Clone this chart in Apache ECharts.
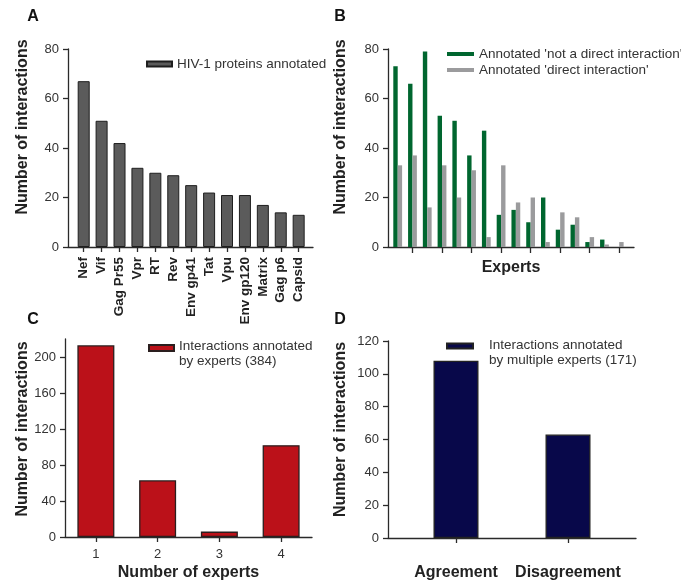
<!DOCTYPE html>
<html>
<head>
<meta charset="utf-8">
<script src="https://cdn.jsdelivr.net/npm/echarts@6/dist/echarts.min.js"></script>
<style>html,body{margin:0;padding:0;background:#fff}#c{width:681px;height:584px}</style>
</head>
<body>
<div id="c"></div>
<script>
// ---- Data ----
const proteinCategories = ['Nef','Vif','Gag Pr55','Vpr','RT','Rev','Env gp41','Tat','Vpu','Env gp120','Matrix','Gag p6','Capsid'];
const proteinCounts = [67,51,42,32,30,29,25,22,21,21,17,14,13];

const expertIds = [1,2,3,4,5,6,7,8,9,10,11,12,13,14,15,16];
const notDirectCounts = [73,66,79,53,51,37,47,13,15,10,20,7,9,2,3,0];
const directCounts = [33,37,16,33,20,31,4,33,18,20,2,14,12,4,1,2];
const expertTickValues = [2,4,6,8,10,12,14,16];

const expertNumberCategories = ['1','2','3','4'];
const expertNumberCounts = [213,63,6,102];

const agreementCategories = ['Agreement','Disagreement'];
const agreementCounts = [108,63];

const yTicksC = [0,40,80,120,160,200];

// ---- Styles ----
const FONT = 'Liberation Sans, Arial, Helvetica, sans-serif';
const axisColor = '#2a2a2a';
const labelColor = '#333';
const titleColor = '#222';

function yAxisBase(gridIndex, max, interval, namePad, nameGap) {
  return {
    type: 'value', gridIndex, min: 0, max, interval,
    name: 'Number of interactions', nameLocation: 'middle', nameGap,
    nameTextStyle: {fontFamily: FONT, fontWeight: 'bold', fontSize: 16, color: titleColor, padding: [0,0,0,namePad]},
    axisLine: {show: true, onZero: false, lineStyle: {color: axisColor, width: 1.3}},
    axisTick: {show: true, inside: false, length: 5, lineStyle: {color: axisColor, width: 1.3}},
    axisLabel: {fontFamily: FONT, fontSize: 13, color: labelColor, margin: 9},
    splitLine: {show: false}
  };
}

function twoLine(name) {
  const parts = name.split('\n');
  return '{a|' + parts[0] + '}\n{b|' + parts[1] + '}';
}

function legendRich(firstLineHeight) {
  return {
    a: {fontFamily: FONT, fontSize: 13.5, color: labelColor, lineHeight: firstLineHeight, verticalAlign: 'bottom'},
    b: {fontFamily: FONT, fontSize: 13.5, color: labelColor, lineHeight: 17}
  };
}

const option = {
  animation: false,
  backgroundColor: '#fff',
  textStyle: {fontFamily: FONT},
  grid: [
    {left: 68, top: 49, width: 245, height: 198},
    {left: 388, top: 49, width: 246, height: 198},
    {left: 65, top: 339, width: 247, height: 198},
    {left: 388, top: 341, width: 248, height: 197}
  ],
  xAxis: [
    {
      type: 'value', gridIndex: 0, min: -0.876, max: 12.8,
      axisLine: {show: true, onZero: false, lineStyle: {color: axisColor, width: 1.3}},
      axisTick: {show: true, length: 5, customValues: proteinCategories.map((c, i) => i), lineStyle: {color: axisColor, width: 1.3}},
      axisLabel: {customValues: proteinCategories.map((c, i) => i), formatter: v => proteinCategories[Math.round(v)] || '',
        rotate: 90, fontFamily: FONT, fontSize: 13.5, fontWeight: 'bold', color: titleColor, margin: 10},
      splitLine: {show: false}
    },
    {
      type: 'value', gridIndex: 1, min: 0.343, max: 17.0,
      name: 'Experts', nameLocation: 'middle', nameGap: 13,
      nameTextStyle: {fontFamily: FONT, fontWeight: 'bold', fontSize: 16, color: titleColor},
      axisLine: {show: true, onZero: false, lineStyle: {color: axisColor, width: 1.3}},
      axisTick: {show: true, length: 6, customValues: expertTickValues, lineStyle: {color: axisColor, width: 1.3}},
      axisLabel: {show: false},
      splitLine: {show: false}
    },
    {
      type: 'category', gridIndex: 2, data: expertNumberCategories,
      name: 'Number of experts', nameLocation: 'middle', nameGap: 28,
      nameTextStyle: {fontFamily: FONT, fontWeight: 'bold', fontSize: 16, color: titleColor},
      axisLine: {show: true, onZero: false, lineStyle: {color: axisColor, width: 1.3}},
      axisTick: {show: true, alignWithLabel: true, length: 5, lineStyle: {color: axisColor, width: 1.3}},
      axisLabel: {fontFamily: FONT, fontSize: 13, color: labelColor, margin: 11}
    },
    {
      type: 'value', gridIndex: 3, min: -0.607, max: 1.607,
      axisLine: {show: true, onZero: false, lineStyle: {color: axisColor, width: 1.3}},
      axisTick: {show: true, length: 5, customValues: [0, 1], lineStyle: {color: axisColor, width: 1.3}},
      axisLabel: {customValues: [0, 1], formatter: v => agreementCategories[Math.round(v)] || '',
        fontFamily: FONT, fontSize: 16, fontWeight: 'bold', color: titleColor, margin: 27},
      splitLine: {show: false}
    }
  ],
  yAxis: [
    yAxisBase(0, 80, 20, 42, 37),
    yAxisBase(1, 80, 20, 42, 39),
    Object.assign(yAxisBase(2, 220, 40, 18, 34), {
      axisLabel: {customValues: yTicksC, fontFamily: FONT, fontSize: 13, color: labelColor, margin: 9},
      axisTick: {show: true, inside: false, length: 5, customValues: yTicksC, lineStyle: {color: axisColor, width: 1.3}}
    }),
    yAxisBase(3, 120, 20, 20, 39)
  ],
  legend: [
    {
      left: 146, top: 57, padding: 0, icon: 'rect', itemWidth: 25, itemHeight: 5,
      data: ['HIV-1 proteins annotated'],
      textStyle: {fontFamily: FONT, fontSize: 13.5, color: labelColor}
    },
    {
      left: 447, top: 46, padding: 0, orient: 'vertical', itemGap: 0, icon: 'rect', itemWidth: 27, itemHeight: 4,
      data: ["Annotated 'not a direct interaction'", "Annotated 'direct interaction'"],
      textStyle: {fontFamily: FONT, fontSize: 13.5, color: labelColor, lineHeight: 16}
    },
    {
      left: 148, top: 339, padding: 0, icon: 'rect', itemWidth: 25, itemHeight: 6,
      data: ['Interactions annotated\nby experts (384)'],
      formatter: twoLine,
      textStyle: {fontFamily: FONT, fontSize: 13.5, color: labelColor, rich: legendRich(27)}
    },
    {
      left: 446, top: 338, padding: 0, icon: 'rect', itemWidth: 26, itemHeight: 5,
      data: ['Interactions annotated\nby multiple experts (171)'],
      formatter: twoLine,
      textStyle: {fontFamily: FONT, fontSize: 13.5, color: labelColor, padding: [0,0,0,11], rich: legendRich(29)}
    }
  ],
  graphic: [
    {type: 'text', x: 33, y: 17, style: {text: 'A', font: 'bold 16px ' + FONT, fill: '#111', align: 'center', verticalAlign: 'middle'}},
    {type: 'text', x: 340, y: 17, style: {text: 'B', font: 'bold 16px ' + FONT, fill: '#111', align: 'center', verticalAlign: 'middle'}},
    {type: 'text', x: 33, y: 320, style: {text: 'C', font: 'bold 16px ' + FONT, fill: '#111', align: 'center', verticalAlign: 'middle'}},
    {type: 'text', x: 340, y: 320, style: {text: 'D', font: 'bold 16px ' + FONT, fill: '#111', align: 'center', verticalAlign: 'middle'}}
  ],
  series: [
    {
      name: 'HIV-1 proteins annotated', type: 'bar', xAxisIndex: 0, yAxisIndex: 0, barWidth: 12,
      itemStyle: {color: '#5b5b5b', borderColor: '#1e1e1e', borderWidth: 1},
      data: proteinCounts.map((v, i) => [i, v])
    },
    {
      name: "Annotated 'not a direct interaction'", type: 'bar', xAxisIndex: 1, yAxisIndex: 1, barWidth: 4.4, barGap: '0%',
      itemStyle: {color: '#00662f'},
      data: notDirectCounts.map((v, i) => [expertIds[i], v])
    },
    {
      name: "Annotated 'direct interaction'", type: 'bar', xAxisIndex: 1, yAxisIndex: 1, barWidth: 4.4, barGap: '0%',
      itemStyle: {color: '#9b9b9d'},
      data: directCounts.map((v, i) => [expertIds[i], v])
    },
    {
      name: 'Interactions annotated\nby experts (384)', type: 'bar', xAxisIndex: 2, yAxisIndex: 2, barWidth: 37,
      itemStyle: {color: '#bb1119', borderColor: '#2a1e1e', borderWidth: 1.3},
      data: expertNumberCounts
    },
    {
      name: 'Interactions annotated\nby multiple experts (171)', type: 'bar', xAxisIndex: 3, yAxisIndex: 3, barWidth: 45,
      itemStyle: {color: '#08084a', borderColor: '#222', borderWidth: 1.3},
      data: agreementCounts.map((v, i) => [i, v])
    }
  ]
};

const chart = echarts.init(document.getElementById('c'), null, {renderer: 'canvas'});
chart.setOption(option);
</script>
</body>
</html>
